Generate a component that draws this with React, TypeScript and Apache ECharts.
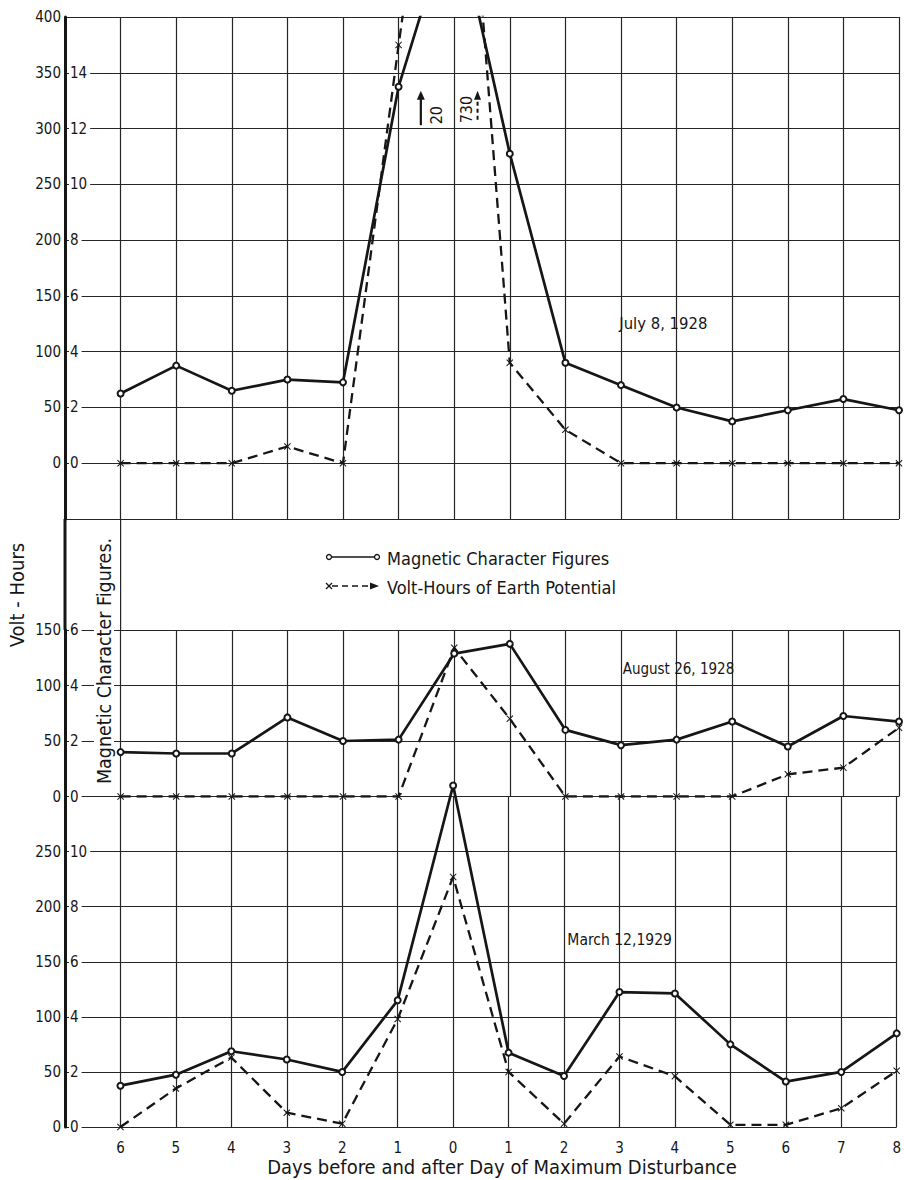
import React, { useEffect, useRef } from "react";
import * as echarts from "echarts";

// ---------- data ----------
const DAY_LABELS = ["6", "5", "4", "3", "2", "1", "0", "1", "2", "3", "4", "5", "6", "7", "8"];

// July 8, 1928
const JULY_MAGNETIC = [2.5, 3.5, 2.6, 3.0, 2.9, 13.5, 20, 11.1, 3.6, 2.8, 2.0, 1.5, 1.9, 2.3, 1.9];
const JULY_VOLT_HOURS = [0, 0, 0, 15, 0, 375, 730, 90, 30, 0, 0, 0, 0, 0, 0];
// August 26, 1928
const AUGUST_MAGNETIC = [1.6, 1.55, 1.55, 2.85, 2.0, 2.05, 5.15, 5.5, 2.4, 1.85, 2.05, 2.7, 1.8, 2.9, 2.7];
const AUGUST_VOLT_HOURS = [0, 0, 0, 0, 0, 0, 134, 70, 0, 0, 0, 0, 20, 26, 62];
// March 12, 1929
const MARCH_MAGNETIC = [1.5, 1.9, 2.75, 2.45, 2.0, 4.6, 12.4, 2.7, 1.85, 4.9, 4.85, 3.0, 1.65, 2.0, 3.4];
const MARCH_VOLT_HOURS = [0, 35, 63, 13, 3, 98, 227, 50, 3, 64, 46, 2, 2, 17, 51];

const TOP_VH_LABELS = [0, 50, 100, 150, 200, 250, 300, 350, 400];
const TOP_MCF_LABELS = [0, 2, 4, 6, 8, 10, 12, 14];
const MID_VH_LABELS = [0, 50, 100, 150];
const MID_MCF_LABELS = [0, 2, 4, 6];
const BOT_VH_LABELS = [0, 50, 100, 150, 200, 250];
const BOT_MCF_LABELS = [0, 2, 4, 6, 8, 10];

const PEAK_NOTES = ["20", "730"];
const DATE_LABELS = ["July 8, 1928", "August 26, 1928", "March 12,1929"];
const LEGEND_NAMES = ["Magnetic Character Figures", "Volt-Hours of Earth Potential"];

// ---------- style ----------
const FONT = "'DejaVu Sans Condensed', 'DejaVu Sans', sans-serif";
const INK = "#161616";
const GRID_LINE = { color: "#262626", width: 1.2 };
const CROSS =
  "path://M1,0L5,4L9,0L10,1L6,5L10,9L9,10L5,6L1,10L0,9L4,5L0,1Z";

function dayAxis(gridIndex: number, withLabels: boolean) {
  return {
    type: "value",
    gridIndex,
    min: -1,
    max: 14,
    interval: 1,
    axisLine: { show: false },
    axisTick: { show: false },
    splitLine: { show: true, lineStyle: GRID_LINE },
    axisLabel: withLabels
      ? {
          show: true,
          margin: 13,
          fontFamily: FONT,
          fontSize: 15,
          color: INK,
          showMinLabel: false,
          formatter: (v: number) => (DAY_LABELS[v] !== undefined ? DAY_LABELS[v] : ""),
        }
      : { show: false },
  };
}

function vhAxis(gridIndex: number, min: number, max: number, labels: number[], showMin: boolean, showMax: boolean) {
  return {
    type: "value",
    gridIndex,
    min,
    max,
    interval: 50,
    position: "left",
    axisLine: { show: true, onZero: false, lineStyle: { color: INK, width: 3 } },
    axisTick: { show: false },
    splitLine: { show: true, lineStyle: GRID_LINE },
    axisLabel: {
      margin: 4,
      fontFamily: FONT,
      fontSize: 15,
      color: INK,
      showMinLabel: showMin,
      showMaxLabel: showMax,
      formatter: (v: number) => (labels.includes(v) ? String(v) : ""),
    },
  };
}

function mcfAxis(gridIndex: number, min: number, max: number, labels: number[], showMin: boolean, showMax: boolean) {
  return {
    type: "value",
    gridIndex,
    min,
    max,
    interval: 2,
    position: "left",
    axisLine: { show: false },
    axisTick: { show: false },
    splitLine: { show: false },
    axisLabel: {
      inside: true,
      margin: 4,
      fontFamily: FONT,
      fontSize: 15,
      color: INK,
      backgroundColor: "#fff",
      padding: [1, 3, 1, 1],
      showMinLabel: showMin,
      showMaxLabel: showMax,
      formatter: (v: number) => (labels.includes(v) ? String(v) : ""),
    },
  };
}

function magneticSeries(data: number[], xAxisIndex: number, yAxisIndex: number, clip = true) {
  return {
    type: "line",
    name: LEGEND_NAMES[0],
    xAxisIndex,
    yAxisIndex,
    clip,
    data: data.map((v, i) => [i, v]),
    symbol: "emptyCircle",
    symbolSize: 6,
    lineStyle: { color: INK, width: 2.7 },
    itemStyle: { color: INK, borderWidth: 1.4 },
    z: 4,
  };
}

function voltSeries(data: number[], xAxisIndex: number, yAxisIndex: number) {
  return {
    type: "line",
    name: LEGEND_NAMES[1],
    xAxisIndex,
    yAxisIndex,
    clip: true,
    data: data.map((v, i) => [i, v]),
    symbol: CROSS,
    symbolSize: 7,
    lineStyle: { color: INK, width: 2.3, type: [10, 6] },
    itemStyle: { color: INK },
    z: 3,
  };
}

export default function App() {
  const ref = useRef<HTMLDivElement>(null);

  useEffect(() => {
    if (!ref.current) return;
    const chart = echarts.init(ref.current, null, { renderer: "svg" });
    const option: any = {
      animation: false,
      backgroundColor: "#fff",
      grid: [
        { left: 65, width: 834, top: 17, height: 502 },
        { left: 65, width: 834, top: 630, height: 166.5 },
        { left: 65, width: 834, top: 796.5, height: 330.5 },
      ],
      xAxis: [dayAxis(0, false), dayAxis(1, false), dayAxis(2, true)],
      yAxis: [
        vhAxis(0, -50, 400, TOP_VH_LABELS, false, true),
        mcfAxis(0, -2, 16, TOP_MCF_LABELS, false, false),
        vhAxis(1, 0, 150, MID_VH_LABELS, true, true),
        mcfAxis(1, 0, 6, MID_MCF_LABELS, true, true),
        vhAxis(2, 0, 300, BOT_VH_LABELS, true, false),
        mcfAxis(2, 0, 12, BOT_MCF_LABELS, true, false),
      ],
      series: [
        voltSeries(JULY_VOLT_HOURS, 0, 0),
        magneticSeries(JULY_MAGNETIC, 0, 1),
        voltSeries(AUGUST_VOLT_HOURS, 1, 2),
        magneticSeries(AUGUST_MAGNETIC, 1, 3),
        voltSeries(MARCH_VOLT_HOURS, 2, 4),
        magneticSeries(MARCH_MAGNETIC, 2, 5, false),
      ],
    };
    chart.setOption(option);

    const p = (xa: number, ya: number, x: number, y: number) =>
      chart.convertToPixel({ xAxisIndex: xa, yAxisIndex: ya } as any, [x, y]) as number[];

    const [axisX, bandTop] = p(0, 0, -1, -50);
    const [firstX] = p(0, 0, 0, 0);
    const [, bandBottom] = p(1, 2, 0, 150);

    // annotation anchors (data space of the top panel)
    const arrow20Tip = p(0, 0, 5.4, 334);
    const arrow20Tail = p(0, 0, 5.4, 303);
    const note20 = p(0, 0, 5.69, 312);
    const note730 = p(0, 0, 6.23, 317);
    const arrow730Tip = p(0, 0, 6.42, 334);
    const arrow730Tail = p(0, 0, 6.42, 308);

    const julyPos = p(0, 0, 8.97, 125);
    const augPos = p(1, 2, 9.03, 115);
    const marPos = p(2, 4, 8.06, 170);

    const textStyle = (text: string, size: number, extra: any = {}) => ({
      text,
      fontFamily: FONT,
      fontSize: size,
      fill: INK,
      ...extra,
    });

    const graphic: any[] = [
      // band between top and middle panel
      { type: "line", z: 10, shape: { x1: axisX, y1: bandTop, x2: axisX, y2: bandBottom }, style: { stroke: INK, lineWidth: 3 } },
      { type: "line", z: 1, shape: { x1: firstX, y1: bandTop, x2: firstX, y2: bandBottom }, style: { stroke: GRID_LINE.color, lineWidth: GRID_LINE.width } },

      // legend
      { type: "line", z: 10, shape: { x1: 331, y1: 557, x2: 375, y2: 557 }, style: { stroke: INK, lineWidth: 1.6 } },
      { type: "circle", z: 11, shape: { cx: 329, cy: 557, r: 2.5 }, style: { fill: "#fff", stroke: INK, lineWidth: 1.3 } },
      { type: "circle", z: 11, shape: { cx: 377, cy: 557, r: 2.5 }, style: { fill: "#fff", stroke: INK, lineWidth: 1.3 } },
      { type: "text", z: 10, x: 387, y: 558, style: textStyle(LEGEND_NAMES[0], 18, { verticalAlign: "middle" }) },
      { type: "line", z: 10, shape: { x1: 332, y1: 586, x2: 372, y2: 586 }, style: { stroke: INK, lineWidth: 1.6, lineDash: [6, 4] } },
      { type: "line", z: 10, shape: { x1: 326, y1: 583, x2: 332, y2: 589 }, style: { stroke: INK, lineWidth: 1.3 } },
      { type: "line", z: 10, shape: { x1: 326, y1: 589, x2: 332, y2: 583 }, style: { stroke: INK, lineWidth: 1.3 } },
      { type: "polygon", z: 10, shape: { points: [[370, 582.5], [379, 586], [370, 589.5]] }, style: { fill: INK } },
      { type: "text", z: 10, x: 387, y: 587, style: textStyle(LEGEND_NAMES[1], 18, { verticalAlign: "middle" }) },

      // axis titles
      { type: "text", z: 10, x: 17, y: 595, rotation: Math.PI / 2, style: textStyle("Volt - Hours", 20, { align: "center", verticalAlign: "middle" }) },
      {
        type: "text",
        z: 12,
        x: 104,
        y: 661,
        rotation: Math.PI / 2,
        style: textStyle("Magnetic Character Figures.", 19.5, { align: "center", verticalAlign: "middle", backgroundColor: "#fff", padding: [0, 1] }),
      },
      { type: "text", z: 10, x: 502, y: 1167, style: textStyle("Days before and after Day of Maximum Disturbance", 20, { align: "center", verticalAlign: "middle" }) },

      // date labels
      { type: "text", z: 10, x: julyPos[0], y: julyPos[1], style: textStyle(DATE_LABELS[0], 16.5, { verticalAlign: "middle" }) },
      { type: "text", z: 10, x: augPos[0], y: augPos[1], style: textStyle(DATE_LABELS[1], 15, { verticalAlign: "middle" }) },
      { type: "text", z: 10, x: marPos[0], y: marPos[1], style: textStyle(DATE_LABELS[2], 15.5, { verticalAlign: "middle" }) },

      // peak notes
      { type: "line", z: 10, shape: { x1: arrow20Tail[0], y1: arrow20Tail[1], x2: arrow20Tip[0], y2: arrow20Tip[1] + 8 }, style: { stroke: INK, lineWidth: 2.2 } },
      {
        type: "polygon",
        z: 10,
        shape: { points: [[arrow20Tip[0] - 4, arrow20Tip[1] + 9], [arrow20Tip[0], arrow20Tip[1]], [arrow20Tip[0] + 4, arrow20Tip[1] + 9]] },
        style: { fill: INK },
      },
      { type: "text", z: 10, x: note20[0], y: note20[1], rotation: Math.PI / 2, style: textStyle(PEAK_NOTES[0], 16, { align: "center", verticalAlign: "middle" }) },
      { type: "text", z: 10, x: note730[0], y: note730[1], rotation: Math.PI / 2, style: textStyle(PEAK_NOTES[1], 16, { align: "center", verticalAlign: "middle" }) },
      { type: "line", z: 10, shape: { x1: arrow730Tail[0], y1: arrow730Tail[1], x2: arrow730Tip[0], y2: arrow730Tip[1] + 8 }, style: { stroke: INK, lineWidth: 2, lineDash: [4, 3] } },
      {
        type: "polygon",
        z: 10,
        shape: { points: [[arrow730Tip[0] - 3.5, arrow730Tip[1] + 9], [arrow730Tip[0], arrow730Tip[1]], [arrow730Tip[0] + 3.5, arrow730Tip[1] + 9]] },
        style: { fill: INK },
      },
    ];
    chart.setOption({ graphic });

    return () => chart.dispose();
  }, []);

  return (
    <div
      ref={ref}
      style={{ position: "fixed", left: 0, top: 0, width: 904, height: 1180, background: "#fff" }}
    />
  );
}
